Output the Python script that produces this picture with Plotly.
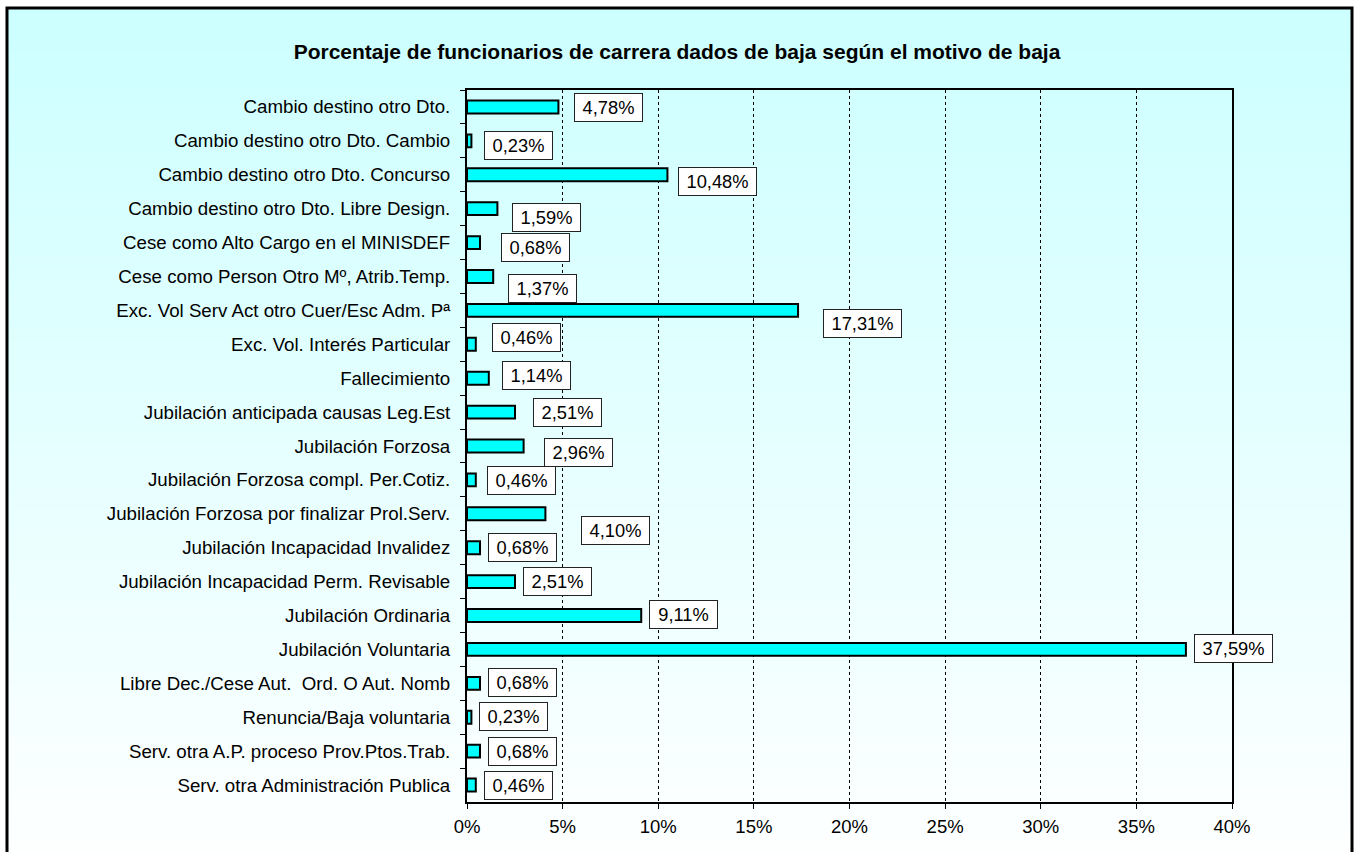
import plotly.graph_objects as go

# Motivos de baja y porcentaje de funcionarios de carrera dados de baja
categorias = [
    "Cambio destino otro Dto.",
    "Cambio destino otro Dto. Cambio",
    "Cambio destino otro Dto. Concurso",
    "Cambio destino otro Dto. Libre Design.",
    "Cese como Alto Cargo en el MINISDEF",
    "Cese como Person Otro Mº, Atrib.Temp.",
    "Exc. Vol Serv Act otro Cuer/Esc Adm. Pª",
    "Exc. Vol. Interés Particular",
    "Fallecimiento",
    "Jubilación anticipada causas Leg.Est",
    "Jubilación Forzosa",
    "Jubilación Forzosa compl. Per.Cotiz.",
    "Jubilación Forzosa por finalizar Prol.Serv.",
    "Jubilación Incapacidad Invalidez",
    "Jubilación Incapacidad Perm. Revisable",
    "Jubilación Ordinaria",
    "Jubilación Voluntaria",
    "Libre Dec./Cese Aut.  Ord. O Aut. Nomb",
    "Renuncia/Baja voluntaria",
    "Serv. otra A.P. proceso Prov.Ptos.Trab.",
    "Serv. otra Administración Publica",
]
porcentajes = [4.78, 0.23, 10.48, 1.59, 0.68, 1.37, 17.31, 0.46, 1.14, 2.51,
               2.96, 0.46, 4.10, 0.68, 2.51, 9.11, 37.59, 0.68, 0.23, 0.68, 0.46]

x_ticks = [0, 5, 10, 15, 20, 25, 30, 35, 40]

# Desplazamiento (px) de cada etiqueta respecto al extremo de su barra
label_dx = [16, 13, 11, 15, 21, 15, 25, 16, 13, 18, 20, 11, 36, 8, 8, 8, 8, 8, 8, 8, 8]
label_dy = [1, 5, 7, 9, 5, 12, 13, -7, -3, 0, 6, 1, 17, 0, 0, -1, -1, -1, -1, 0, 0]

W, H = 1354, 852
L, R, T, B = 467, 1232, 90, 802  # área de trazado en píxeles


def px_x(q):
    return (q - L) / (R - L)


def px_y(p):
    return (B - p) / (B - T)


def etiqueta(v):
    return f"{v:.2f}".replace(".", ",") + "%"


FONT = "Arial, Liberation Sans, sans-serif"

fig = go.Figure()
fig.add_trace(go.Bar(
    x=porcentajes,
    y=categorias,
    orientation="h",
    marker=dict(color="#00FFFF", line=dict(color="black", width=2)),
    hoverinfo="x+y",
))

# Fondo degradado del área del gráfico (cian claro arriba, casi blanco abajo)
shapes = []
top_px, bot_px, left_px, right_px = 8, 880, 7, 1352
n = 120
for i in range(n):
    y0 = top_px + (bot_px - top_px) * i / n
    y1 = top_px + (bot_px - top_px) * (i + 1) / n
    t = (i + 0.5) / n
    r = round(204 + (255 - 204) * t)
    shapes.append(dict(
        type="rect", xref="paper", yref="paper", layer="below",
        x0=px_x(left_px), x1=px_x(right_px), y0=px_y(y1 + 0.5), y1=px_y(y0),
        fillcolor=f"rgb({r},255,255)", line=dict(width=0),
    ))
shapes.append(dict(
    type="rect", xref="paper", yref="paper", layer="below",
    x0=px_x(left_px), x1=px_x(right_px), y0=px_y(bot_px), y1=px_y(top_px),
    line=dict(color="black", width=3), fillcolor="rgba(0,0,0,0)",
))

annotations = []
for cat, v, dx, dy in zip(categorias, porcentajes, label_dx, label_dy):
    txt = etiqueta(v)
    annotations.append(dict(
        x=v, y=cat, xref="x", yref="y", text=txt, showarrow=False,
        xanchor="left", yanchor="middle", xshift=dx, yshift=-dy,
        font=dict(family=FONT, size=18.3, color="black"),
        bgcolor="white", bordercolor="#222", borderwidth=1, borderpad=0,
        width=67 if len(txt) <= 5 else 77, height=27, align="center",
    ))

fig.update_layout(
    width=W, height=H,
    margin=dict(l=L, r=W - R, t=T, b=H - B),
    paper_bgcolor="white",
    plot_bgcolor="rgba(0,0,0,0)",
    bargap=0.62,
    showlegend=False,
    title=dict(
        text="<b>Porcentaje de funcionarios de carrera dados de baja según el motivo de baja</b>",
        x=0.5, xref="container", xanchor="center",
        y=1 - 52 / H, yref="container", yanchor="middle",
        font=dict(family=FONT, size=21, color="black"),
    ),
    font=dict(family=FONT, size=18, color="black"),
    shapes=shapes,
    annotations=annotations,
)

fig.update_xaxes(
    range=[0, 40], tickvals=x_ticks, ticktext=[f"{v}%" for v in x_ticks],
    showgrid=True, gridcolor="black", gridwidth=1, griddash="dot",
    showline=True, linecolor="black", linewidth=2, mirror=True,
    ticks="outside", ticklen=5, tickcolor="black",
    zeroline=False, fixedrange=True, ticklabelstandoff=2,
    tickfont=dict(family=FONT, size=18.5, color="black"),
)
fig.update_yaxes(
    autorange="reversed", type="category",
    showline=True, linecolor="black", linewidth=2, mirror=True,
    ticks="outside", ticklen=5, tickcolor="black", tickson="boundaries",
    showgrid=False, fixedrange=True, ticklabelstandoff=11,
    tickfont=dict(family=FONT, size=18.7, color="black"),
)

fig.write_html("out.html")
